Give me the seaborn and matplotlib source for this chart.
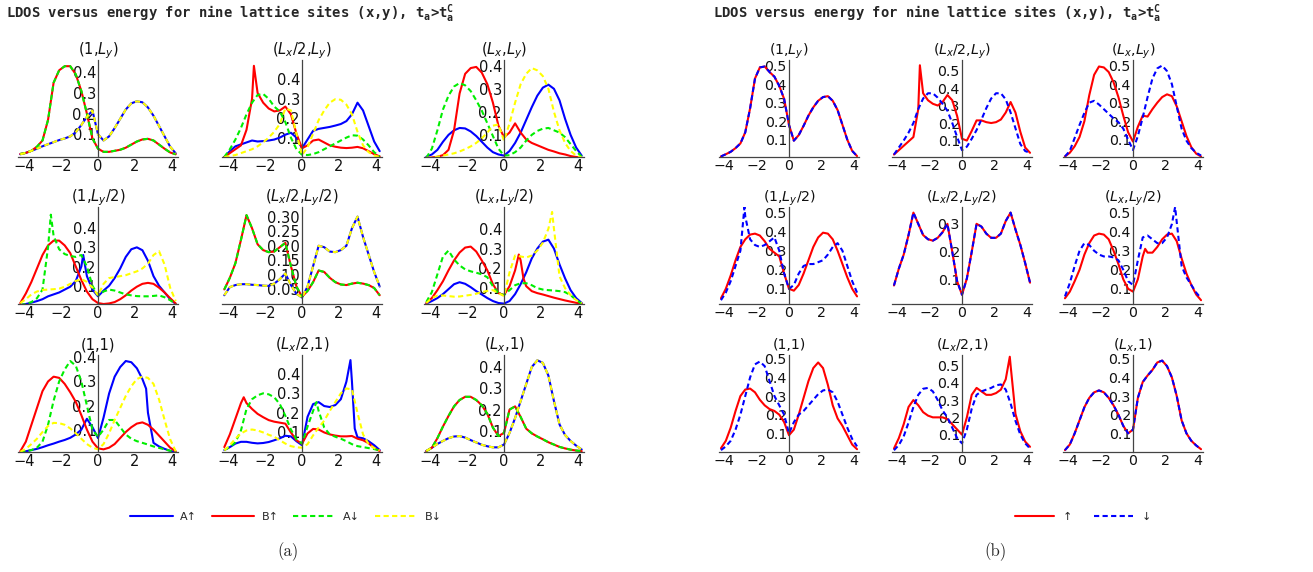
import matplotlib
matplotlib.use("Agg")
import matplotlib.pyplot as plt
from matplotlib.lines import Line2D
from matplotlib.ticker import MultipleLocator
import pandas as pd
import seaborn as sns

# ---------------- data ----------------
ENERGY = [-4.2, -3.9, -3.6, -3.3, -3.0, -2.7, -2.4, -2.1, -1.8, -1.5, -1.2, -0.9, -0.6, -0.3,
          0.0, 0.3, 0.6, 0.9, 1.2, 1.5, 1.8, 2.1, 2.4, 2.7, 3.0, 3.3, 3.6, 3.9, 4.2]

SITE_TITLES = ["(1,$L_y$)", "($L_x$/2,$L_y$)", "($L_x$,$L_y$)",
               "(1,$L_y$/2)", "($L_x$/2,$L_y$/2)", "($L_x$,$L_y$/2)",
               "(1,1)", "($L_x$/2,1)", "($L_x$,1)"]
SERIES_A = ["A↑", "B↑", "A↓", "B↓"]
SERIES_B = ["↑", "↓"]
TITLE = ("LDOS versus energy for nine lattice sites (x,y), "
         "t$_\\mathregular{a}$>t$_\\mathregular{a}^\\mathregular{C}$")

# (a) t_a > t_a^C, four components
a0_Aup = [0.003, 0.01, 0.02, 0.03, 0.042, 0.052, 0.062, 0.072, 0.08, 0.09, 0.11, 0.145, 0.185, 0.215,
          0.1, 0.07, 0.09, 0.13, 0.175, 0.22, 0.25, 0.26, 0.255, 0.23, 0.19, 0.14, 0.09, 0.04, 0.008]
a0_Bup = [0.005, 0.01, 0.02, 0.04, 0.07, 0.17, 0.35, 0.41, 0.43, 0.43, 0.39, 0.31, 0.2, 0.08,
          0.03, 0.015, 0.015, 0.02, 0.025, 0.035, 0.05, 0.065, 0.075, 0.078, 0.07, 0.05, 0.03, 0.012, 0.003]

a1_Aup = [0.0, 0.03, 0.055, 0.065, 0.075, 0.085, 0.08, 0.082, 0.085, 0.09, 0.1, 0.115, 0.125, 0.1,
          0.045, 0.09, 0.135, 0.145, 0.15, 0.155, 0.162, 0.17, 0.185, 0.22, 0.28, 0.24, 0.16, 0.08, 0.03]
a1_Bup = [0.0, 0.02, 0.04, 0.06, 0.14, 0.3, 0.33, 0.28, 0.25, 0.235, 0.24, 0.26, 0.22, 0.12,
          0.045, 0.06, 0.085, 0.09, 0.075, 0.06, 0.053, 0.048, 0.046, 0.048, 0.052, 0.045, 0.03, 0.015, 0.003]
a1_Adn = [0.0, 0.04, 0.09, 0.15, 0.22, 0.28, 0.32, 0.325, 0.3, 0.26, 0.235, 0.18, 0.1, 0.04,
          0.012, 0.01, 0.015, 0.025, 0.04, 0.055, 0.07, 0.085, 0.1, 0.112, 0.11, 0.09, 0.06, 0.025, 0.003]
a1_Bdn = [0.0, 0.005, 0.01, 0.02, 0.03, 0.04, 0.055, 0.075, 0.1, 0.13, 0.17, 0.25, 0.24, 0.12,
          0.01, 0.05, 0.12, 0.19, 0.24, 0.28, 0.298, 0.295, 0.27, 0.22, 0.13, 0.06, 0.025, 0.008, 0.0]

a2_Aup = [0.005, 0.015, 0.035, 0.07, 0.1, 0.12, 0.13, 0.128, 0.115, 0.095, 0.07, 0.045, 0.025, 0.015,
          0.01, 0.03, 0.065, 0.11, 0.165, 0.22, 0.27, 0.305, 0.318, 0.3, 0.25, 0.17, 0.1, 0.045, 0.01]
a2_Bup = [0.0, 0.002, 0.005, 0.012, 0.035, 0.12, 0.28, 0.365, 0.39, 0.395, 0.37, 0.32, 0.24, 0.14,
          0.09, 0.11, 0.15, 0.11, 0.08, 0.065, 0.055, 0.045, 0.035, 0.028, 0.02, 0.015, 0.008, 0.004, 0.001]
a2_Adn = [0.0, 0.04, 0.12, 0.21, 0.27, 0.31, 0.325, 0.315, 0.29, 0.25, 0.205, 0.15, 0.095, 0.04,
          0.01, 0.012, 0.025, 0.045, 0.075, 0.1, 0.117, 0.127, 0.13, 0.12, 0.11, 0.09, 0.06, 0.03, 0.005]
a2_Bdn = [0.0, 0.002, 0.005, 0.01, 0.015, 0.02, 0.028, 0.038, 0.05, 0.065, 0.085, 0.11, 0.14, 0.145,
          0.075, 0.15, 0.24, 0.32, 0.365, 0.39, 0.38, 0.355, 0.3, 0.2, 0.12, 0.065, 0.03, 0.01, 0.002]

a3_Aup = [0.0, 0.005, 0.012, 0.02, 0.03, 0.045, 0.055, 0.065, 0.08, 0.095, 0.125, 0.2, 0.15, 0.08,
          0.045, 0.075, 0.1, 0.14, 0.19, 0.25, 0.29, 0.3, 0.285, 0.23, 0.15, 0.1, 0.065, 0.03, 0.005]
a3_Bup = [0.01, 0.06, 0.12, 0.19, 0.26, 0.31, 0.335, 0.335, 0.31, 0.27, 0.2, 0.13, 0.07, 0.03,
          0.01, 0.005, 0.008, 0.015, 0.03, 0.05, 0.075, 0.095, 0.11, 0.115, 0.11, 0.09, 0.065, 0.035, 0.008]
a3_Adn = [0.0, 0.005, 0.015, 0.035, 0.08, 0.3, 0.36, 0.29, 0.265, 0.255, 0.25, 0.26, 0.2, 0.1,
          0.05, 0.07, 0.08, 0.075, 0.065, 0.055, 0.05, 0.046, 0.045, 0.045, 0.047, 0.05, 0.04, 0.025, 0.005]
a3_Bdn = [0.01, 0.03, 0.055, 0.07, 0.078, 0.08, 0.082, 0.085, 0.095, 0.11, 0.125, 0.135, 0.12, 0.09,
          0.05, 0.11, 0.14, 0.145, 0.15, 0.155, 0.165, 0.175, 0.19, 0.215, 0.26, 0.28, 0.21, 0.09, 0.02]

a4_Aup = [0.03, 0.058, 0.065, 0.068, 0.068, 0.066, 0.065, 0.063, 0.062, 0.07, 0.085, 0.105, 0.065, 0.035,
          0.022, 0.06, 0.13, 0.2, 0.195, 0.18, 0.178, 0.185, 0.2, 0.26, 0.3, 0.23, 0.17, 0.11, 0.06]
a4_Bup = [0.05, 0.09, 0.14, 0.22, 0.305, 0.26, 0.205, 0.185, 0.178, 0.18, 0.195, 0.21, 0.13, 0.06,
          0.025, 0.045, 0.075, 0.115, 0.11, 0.09, 0.075, 0.067, 0.065, 0.07, 0.073, 0.07, 0.065, 0.055, 0.03]

a5_Aup = [0.022, 0.035, 0.05, 0.07, 0.095, 0.12, 0.13, 0.122, 0.105, 0.085, 0.068, 0.05, 0.035, 0.025,
          0.022, 0.035, 0.07, 0.12, 0.18, 0.25, 0.3, 0.335, 0.345, 0.3, 0.22, 0.15, 0.09, 0.05, 0.025]
a5_Bup = [0.025, 0.05, 0.09, 0.135, 0.19, 0.24, 0.28, 0.305, 0.31, 0.285, 0.24, 0.19, 0.12, 0.075,
          0.065, 0.11, 0.19, 0.24, 0.11, 0.085, 0.075, 0.068, 0.06, 0.052, 0.045, 0.038, 0.032, 0.026, 0.022]
a5_Adn = [0.03, 0.08, 0.17, 0.26, 0.29, 0.245, 0.215, 0.195, 0.185, 0.178, 0.17, 0.155, 0.11, 0.075,
          0.065, 0.09, 0.115, 0.125, 0.125, 0.115, 0.1, 0.093, 0.09, 0.088, 0.085, 0.08, 0.065, 0.04, 0.022]
a5_Bdn = [0.025, 0.05, 0.062, 0.063, 0.06, 0.057, 0.058, 0.062, 0.066, 0.072, 0.08, 0.086, 0.09, 0.075,
          0.06, 0.18, 0.265, 0.26, 0.255, 0.265, 0.29, 0.33, 0.4, 0.4, 0.16, 0.1, 0.065, 0.04, 0.025]

a6_Aup = [0.005, 0.01, 0.015, 0.02, 0.027, 0.035, 0.042, 0.05, 0.057, 0.066, 0.08, 0.1, 0.145, 0.11,
          0.065, 0.15, 0.25, 0.32, 0.36, 0.385, 0.38, 0.355, 0.31, 0.17, 0.045, 0.03, 0.02, 0.012, 0.006]
a6_Bup = [0.01, 0.05, 0.12, 0.19, 0.26, 0.3, 0.32, 0.315, 0.29, 0.255, 0.215, 0.16, 0.1, 0.05,
          0.022, 0.018, 0.025, 0.04, 0.065, 0.09, 0.11, 0.125, 0.13, 0.12, 0.1, 0.075, 0.05, 0.025, 0.01]
a6_Adn = [0.005, 0.01, 0.015, 0.025, 0.05, 0.12, 0.22, 0.3, 0.35, 0.385, 0.365, 0.3, 0.2, 0.1,
          0.07, 0.1, 0.14, 0.14, 0.11, 0.08, 0.062, 0.052, 0.045, 0.038, 0.03, 0.024, 0.018, 0.012, 0.006]
a6_Bdn = [0.008, 0.02, 0.04, 0.062, 0.09, 0.115, 0.128, 0.127, 0.12, 0.105, 0.085, 0.062, 0.04, 0.025,
          0.018, 0.04, 0.085, 0.14, 0.19, 0.24, 0.28, 0.31, 0.32, 0.315, 0.29, 0.225, 0.14, 0.06, 0.01]

a7_Aup = [0.01, 0.025, 0.043, 0.052, 0.052, 0.047, 0.044, 0.046, 0.051, 0.06, 0.07, 0.083, 0.08, 0.055,
          0.035, 0.18, 0.245, 0.255, 0.235, 0.23, 0.24, 0.27, 0.36, 0.36, 0.075, 0.07, 0.055, 0.035, 0.01]
a7_Bup = [0.025, 0.09, 0.17, 0.25, 0.25, 0.22, 0.195, 0.178, 0.163, 0.155, 0.15, 0.145, 0.1, 0.06,
          0.042, 0.095, 0.118, 0.115, 0.1, 0.09, 0.084, 0.08, 0.08, 0.082, 0.068, 0.06, 0.045, 0.02, 0.005]
a7_Adn = [0.01, 0.025, 0.05, 0.11, 0.22, 0.27, 0.29, 0.3, 0.295, 0.28, 0.245, 0.185, 0.115, 0.065,
          0.043, 0.13, 0.21, 0.21, 0.125, 0.09, 0.078, 0.068, 0.055, 0.04, 0.03, 0.025, 0.02, 0.015, 0.008]
a7_Bdn = [0.008, 0.035, 0.068, 0.095, 0.11, 0.115, 0.11, 0.1, 0.088, 0.078, 0.06, 0.043, 0.03, 0.024,
          0.022, 0.04, 0.085, 0.125, 0.16, 0.21, 0.255, 0.3, 0.325, 0.32, 0.2, 0.09, 0.04, 0.02, 0.008]

a8_Aup = [0.005, 0.02, 0.038, 0.052, 0.065, 0.073, 0.075, 0.068, 0.056, 0.045, 0.034, 0.027, 0.022, 0.022,
          0.035, 0.09, 0.16, 0.24, 0.32, 0.4, 0.432, 0.42, 0.36, 0.24, 0.13, 0.08, 0.052, 0.03, 0.012]
a8_Bup = [0.004, 0.02, 0.065, 0.12, 0.17, 0.215, 0.245, 0.26, 0.26, 0.245, 0.22, 0.18, 0.115, 0.075,
          0.09, 0.2, 0.215, 0.165, 0.11, 0.088, 0.073, 0.06, 0.046, 0.035, 0.024, 0.017, 0.011, 0.007, 0.004]

# (b) spin up / spin down
b0 = [0.01, 0.022, 0.035, 0.055, 0.08, 0.14, 0.27, 0.43, 0.49, 0.495, 0.465, 0.44, 0.39, 0.32,
      0.18, 0.095, 0.125, 0.175, 0.23, 0.275, 0.31, 0.33, 0.335, 0.31, 0.26, 0.18, 0.1, 0.04, 0.012]
b1_up = [0.02, 0.045, 0.07, 0.095, 0.12, 0.28, 0.37, 0.33, 0.31, 0.3, 0.32, 0.36, 0.33, 0.24,
         0.11, 0.1, 0.155, 0.215, 0.215, 0.205, 0.2, 0.205, 0.22, 0.26, 0.32, 0.26, 0.15, 0.06, 0.03]
b1_dn = [0.02, 0.06, 0.1, 0.145, 0.2, 0.28, 0.34, 0.37, 0.37, 0.345, 0.31, 0.27, 0.2, 0.12,
         0.045, 0.065, 0.11, 0.16, 0.22, 0.285, 0.34, 0.37, 0.37, 0.335, 0.26, 0.17, 0.08, 0.04, 0.03]
b2_up = [0.01, 0.03, 0.065, 0.115, 0.2, 0.34, 0.45, 0.495, 0.49, 0.465, 0.41, 0.33, 0.23, 0.14,
         0.09, 0.17, 0.23, 0.225, 0.265, 0.3, 0.33, 0.345, 0.335, 0.28, 0.2, 0.12, 0.06, 0.025, 0.01]
b2_dn = [0.01, 0.04, 0.11, 0.18, 0.245, 0.3, 0.31, 0.29, 0.265, 0.24, 0.215, 0.195, 0.16, 0.1,
         0.045, 0.12, 0.22, 0.33, 0.43, 0.485, 0.5, 0.47, 0.4, 0.28, 0.16, 0.095, 0.055, 0.03, 0.015]
b3_up = [0.05, 0.1, 0.17, 0.25, 0.32, 0.36, 0.385, 0.39, 0.38, 0.35, 0.31, 0.29, 0.27, 0.18,
         0.1, 0.09, 0.12, 0.18, 0.25, 0.32, 0.37, 0.395, 0.39, 0.36, 0.3, 0.23, 0.16, 0.1, 0.06]
b3_dn = [0.04, 0.08, 0.14, 0.22, 0.3, 0.48, 0.36, 0.33, 0.32, 0.33, 0.35, 0.37, 0.3, 0.18,
         0.1, 0.12, 0.18, 0.22, 0.23, 0.23, 0.24, 0.25, 0.28, 0.32, 0.34, 0.3, 0.22, 0.14, 0.08]
b4 = [0.08, 0.14, 0.19, 0.26, 0.34, 0.3, 0.26, 0.245, 0.24, 0.25, 0.27, 0.3, 0.2, 0.095,
      0.047, 0.105, 0.2, 0.3, 0.29, 0.265, 0.25, 0.25, 0.265, 0.31, 0.34, 0.28, 0.225, 0.16, 0.09]
b5_up = [0.05, 0.085, 0.14, 0.2, 0.28, 0.34, 0.38, 0.39, 0.385, 0.36, 0.3, 0.23, 0.15, 0.1,
         0.085, 0.15, 0.27, 0.29, 0.29, 0.32, 0.36, 0.385, 0.39, 0.35, 0.26, 0.18, 0.12, 0.07, 0.04]
b5_dn = [0.06, 0.13, 0.22, 0.3, 0.34, 0.33, 0.3, 0.28, 0.27, 0.27, 0.265, 0.25, 0.2, 0.14,
         0.12, 0.25, 0.37, 0.38, 0.36, 0.34, 0.34, 0.37, 0.44, 0.45, 0.22, 0.16, 0.12, 0.08, 0.05]
b6_up = [0.02, 0.06, 0.13, 0.22, 0.3, 0.335, 0.34, 0.32, 0.28, 0.25, 0.23, 0.22, 0.2, 0.16,
         0.09, 0.12, 0.2, 0.29, 0.38, 0.45, 0.48, 0.45, 0.36, 0.25, 0.18, 0.14, 0.09, 0.04, 0.015]
b6_dn = [0.01, 0.03, 0.06, 0.12, 0.2, 0.3, 0.4, 0.47, 0.485, 0.46, 0.38, 0.3, 0.25, 0.2,
         0.1, 0.16, 0.2, 0.22, 0.25, 0.28, 0.31, 0.33, 0.335, 0.32, 0.27, 0.2, 0.13, 0.07, 0.03]
b7_up = [0.02, 0.08, 0.16, 0.26, 0.3, 0.27, 0.23, 0.21, 0.2, 0.2, 0.2, 0.19, 0.16, 0.13,
         0.1, 0.2, 0.33, 0.37, 0.35, 0.33, 0.33, 0.34, 0.36, 0.42, 0.5, 0.22, 0.12, 0.06, 0.03]
b7_dn = [0.01, 0.04, 0.09, 0.17, 0.26, 0.33, 0.365, 0.37, 0.35, 0.3, 0.24, 0.2, 0.14, 0.08,
         0.05, 0.13, 0.25, 0.33, 0.35, 0.36, 0.37, 0.385, 0.39, 0.36, 0.28, 0.18, 0.1, 0.05, 0.02]
b8 = [0.01, 0.04, 0.1, 0.17, 0.24, 0.29, 0.32, 0.33, 0.32, 0.29, 0.25, 0.2, 0.14, 0.1,
      0.12, 0.29, 0.375, 0.41, 0.44, 0.48, 0.49, 0.46, 0.4, 0.3, 0.17, 0.1, 0.06, 0.035, 0.015]

PEAKS = {
    ("a", 1, "B↑"): [(-2.6, 0.47)],
    ("a", 3, "A↑"): [(-0.8, 0.26)],
    ("a", 3, "A↓"): [(-2.55, 0.47)],
    ("a", 5, "B↑"): [(0.8, 0.27), (1.05, 0.15)],
    ("a", 5, "B↓"): [(2.6, 0.485)],
    ("a", 6, "A↑"): [(2.6, 0.27)],
    ("a", 7, "A↑"): [(2.62, 0.47), (2.85, 0.12)],
    ("a", 7, "B↑"): [(-3.15, 0.28)],
    ("a", 7, "A↓"): [(0.78, 0.255)],
    ("b", 1, "↑"): [(-2.6, 0.53)],
    ("b", 3, "↓"): [(-2.75, 0.53)],
    ("b", 5, "↑"): [(0.75, 0.31)],
    ("b", 5, "↓"): [(2.6, 0.53)],
    ("b", 7, "↑"): [(2.95, 0.55)],
}

DATA_A = [
    {"A↑": a0_Aup, "B↑": a0_Bup, "A↓": a0_Bup, "B↓": a0_Aup},
    {"A↑": a1_Aup, "B↑": a1_Bup, "A↓": a1_Adn, "B↓": a1_Bdn},
    {"A↑": a2_Aup, "B↑": a2_Bup, "A↓": a2_Adn, "B↓": a2_Bdn},
    {"A↑": a3_Aup, "B↑": a3_Bup, "A↓": a3_Adn, "B↓": a3_Bdn},
    {"A↑": a4_Aup, "B↑": a4_Bup, "A↓": a4_Bup, "B↓": a4_Aup},
    {"A↑": a5_Aup, "B↑": a5_Bup, "A↓": a5_Adn, "B↓": a5_Bdn},
    {"A↑": a6_Aup, "B↑": a6_Bup, "A↓": a6_Adn, "B↓": a6_Bdn},
    {"A↑": a7_Aup, "B↑": a7_Bup, "A↓": a7_Adn, "B↓": a7_Bdn},
    {"A↑": a8_Aup, "B↑": a8_Bup, "A↓": a8_Bup, "B↓": a8_Aup},
]
DATA_B = [
    {"↑": b0, "↓": b0}, {"↑": b1_up, "↓": b1_dn}, {"↑": b2_up, "↓": b2_dn},
    {"↑": b3_up, "↓": b3_dn}, {"↑": b4, "↓": b4}, {"↑": b5_up, "↓": b5_dn},
    {"↑": b6_up, "↓": b6_dn}, {"↑": b7_up, "↓": b7_dn}, {"↑": b8, "↓": b8},
]

YTICKS_A = [[0.1, 0.2, 0.3, 0.4]] * 4 + [[0.05, 0.10, 0.15, 0.20, 0.25, 0.30]] + [[0.1, 0.2, 0.3, 0.4]] * 4
YTICKS_B = [[0.1, 0.2, 0.3, 0.4, 0.5]] * 4 + [[0.1, 0.2, 0.3]] + [[0.1, 0.2, 0.3, 0.4, 0.5]] * 4

# ---------------- style / layout ----------------
sns.set_style("white")
plt.rcParams["font.family"] = ["DejaVu Sans"]
plt.rcParams["mathtext.fontset"] = "dejavusans"

W, H = 1313, 572
fig = plt.figure(figsize=(W / 100, H / 100), dpi=100)

PAL_A = {"A↑": "#0000ff", "B↑": "#ff0000", "A↓": "#00ee00", "B↓": "#ffff00"}
DASH_A = {"A↑": "", "B↑": "", "A↓": (2.5, 1.6), "B↓": (2.5, 1.6)}
PAL_B = {"↑": "#ff0000", "↓": "#0000ff"}
DASH_B = {"↑": "", "↓": (2.5, 1.6)}

YLIM_A = [(-0.01, 0.46), (0.0, 0.5), (0.004, 0.425), (0.005, 0.51), (0.0, 0.333),
          (0.02, 0.51), (0.007, 0.41), (0.0, 0.496), (0.0, 0.457)]
YLIM_B = [(0.007, 0.53), (0.006, 0.56), (0.007, 0.53), (0.02, 0.53), (0.014, 0.36),
          (0.02, 0.53), (0.0, 0.52), (0.0, 0.56), (0.0, 0.52)]

ROW_BASE = [157, 304, 452]
AX_H = 97
AXC = "#444444"


def make_df(key, idx, series_map, order):
    frames = []
    for name in order:
        pts = list(zip(ENERGY, series_map[name])) + PEAKS.get((key, idx, name), [])
        pts.sort()
        frames.append(pd.DataFrame({"E": [p[0] for p in pts],
                                    "LDOS": [p[1] for p in pts],
                                    "series": name}))
    return pd.concat(frames, ignore_index=True)


def draw_block(key, data, order, pal, dash, centers, ppu, ylims, yticks, fs):
    half = 4.3
    for i in range(9):
        r, c = divmod(i, 3)
        left = centers[c] - half * ppu
        bottom = H - ROW_BASE[r]
        ax = fig.add_axes([left / W, bottom / H, 2 * half * ppu / W, AX_H / H])
        df = make_df(key, i, data[i], order)
        sns.lineplot(data=df, x="E", y="LDOS", hue="series", style="series",
                     hue_order=order, style_order=order, palette=pal, dashes=dash,
                     estimator=None, sort=True, linewidth=1.5, legend=False, ax=ax)
        ax.set_xlim(-half, half)
        ax.set_ylim(*ylims[i])
        ax.set_xlabel("")
        ax.set_ylabel("")
        ax.set_facecolor("none")
        for s in ("top", "right"):
            ax.spines[s].set_visible(False)
        ax.spines["left"].set_position(("data", 0))
        for s in ("left", "bottom"):
            ax.spines[s].set_color(AXC)
            ax.spines[s].set_linewidth(0.9)
        ax.set_xticks([-4, -2, 0, 2, 4])
        ax.xaxis.set_minor_locator(MultipleLocator(0.5))
        yt = yticks[i]
        fmt = "{:.2f}" if yt[0] < 0.1 else "{:.1f}"
        ax.set_yticks(yt, [fmt.format(v) for v in yt])
        ax.yaxis.set_minor_locator(MultipleLocator(0.01 if yt[0] < 0.1 else 0.02))
        ax.tick_params(which="major", direction="in", length=4, width=0.8, color=AXC,
                       labelsize=fs, pad=1.5, labelcolor="#111111")
        ax.tick_params(which="minor", direction="in", length=2, width=0.6, color=AXC)
        ax.set_title(SITE_TITLES[i], fontsize=fs, pad=4, color="#111111")


draw_block("a", DATA_A, SERIES_A, PAL_A, DASH_A, [98, 302, 504], 18.5, YLIM_A, YTICKS_A, 10.5)
draw_block("b", DATA_B, SERIES_B, PAL_B, DASH_B, [789, 962, 1133], 16.2, YLIM_B, YTICKS_B, 10.2)

# titles
for x0 in (6, 713):
    fig.text(x0 / W, 1 - 18 / H, TITLE, ha="left", va="baseline", fontsize=10,
             fontweight="bold", family="DejaVu Sans Mono")

# legends
hA = [Line2D([], [], color=PAL_A[s], lw=1.5, dashes=DASH_A[s] if DASH_A[s] else (None, None)) for s in SERIES_A]
fig.legend(hA, SERIES_A, loc="center", bbox_to_anchor=(286 / W, 1 - 517 / H), ncol=4,
           frameon=False, fontsize=8, handlelength=3.8, handletextpad=0.7, columnspacing=1.3)
hB = [Line2D([], [], color=PAL_B[s], lw=1.5, dashes=DASH_B[s] if DASH_B[s] else (None, None)) for s in SERIES_B]
fig.legend(hB, SERIES_B, loc="center", bbox_to_anchor=(1083 / W, 1 - 517 / H), ncol=2,
           frameon=False, fontsize=8, handlelength=3.5, handletextpad=0.8, columnspacing=2.0)

fig.text(288 / W, 1 - 552 / H, "(a)", ha="center", va="center", fontsize=12, family="cmr10")
fig.text(995 / W, 1 - 552 / H, "(b)", ha="center", va="center", fontsize=12, family="cmr10")

fig.savefig("out.png", dpi=100, facecolor="white")
